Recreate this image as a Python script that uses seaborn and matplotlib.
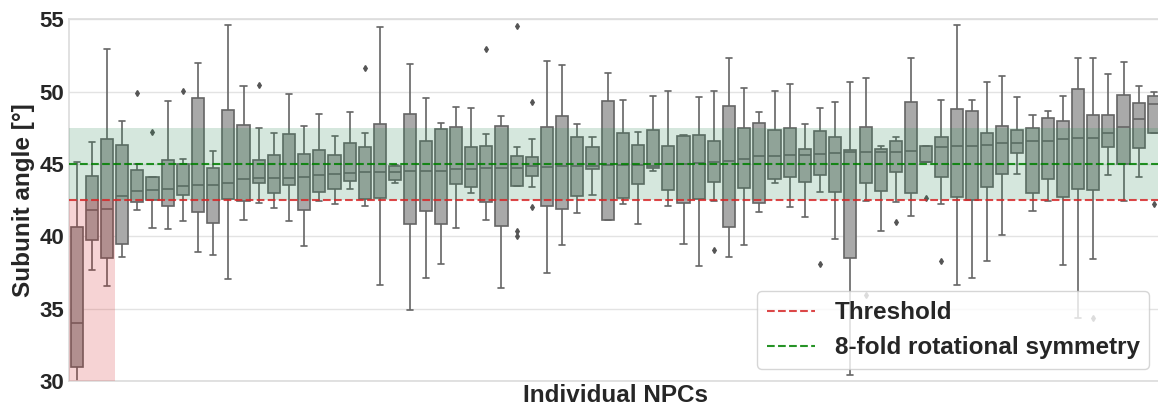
"""
plot.py
Subunit angle distribution per individual NPC, drawn as seaborn box plots
with the threshold and 8-fold symmetry reference bands on top.
"""

import matplotlib
matplotlib.use("Agg")
import matplotlib.pyplot as plt
import pandas as pd
import seaborn as sns

THRESHOLD = 42.5
SYMMETRY = 45.0
TOLERANCE = 2.5
Y_MIN, Y_MAX = 30, 55

# five-number summaries, one entry per NPC (sorted by median)
whisker_low = [29.5, 37.69, 36.58, 38.54, 41.81, 40.54, 40.5, 41.05, 38.89, 38.68,
               37.04, 41.1, 42.27, 41.95, 41.05, 39.32, 42.45, 42.2, 43.26, 42.06,
               36.63, 43.65, 34.88, 37.09, 38.1, 40.54, 42.96, 41.14, 36.4, 43.5,
               43.44, 37.46, 39.39, 41.6, 42.87, 41.1, 42.22, 40.84, 44.53, 42.11,
               39.46, 37.96, 42.45, 38.56, 39.37, 41.67, 43.67, 42.04, 41.3, 43.05,
               39.83, 30.44, 42.45, 40.4, 42.36, 41.4, 45.1, 42.22, 36.61, 37.11,
               38.31, 40.06, 44.32, 41.74, 42.45, 37.99, 34.35, 38.45, 44.23, 42.45,
               44.07, 47.15]
q1 = [30.97, 39.74, 38.5, 39.48, 42.39, 42.5, 42.06, 42.87, 41.69, 40.91,
      42.57, 42.45, 43.7, 42.98, 43.56, 41.79, 43.05, 43.24, 43.79, 42.61,
      42.64, 43.88, 40.84, 41.76, 40.84, 43.6, 43.44, 42.34, 40.68, 43.5,
      44.18, 42.06, 41.88, 42.8, 44.66, 41.1, 42.68, 43.6, 44.73, 43.17,
      42.29, 42.61, 43.74, 40.66, 43.37, 42.29, 43.95, 44.09, 43.77, 44.25,
      43.05, 38.49, 43.67, 43.1, 44.46, 42.98, 45.1, 44.11, 42.71, 42.5,
      43.4, 44.32, 45.77, 42.98, 43.93, 42.71, 43.26, 43.21, 46.16, 45.0,
      46.09, 47.15]
median = [34.03, 41.81, 41.88, 42.78, 43.14, 43.21, 43.24, 43.51, 43.56, 43.56,
          43.67, 43.95, 44.02, 44.04, 44.06, 44.13, 44.23, 44.32, 44.34, 44.41,
          44.41, 44.43, 44.48, 44.5, 44.5, 44.64, 44.64, 44.69, 44.71, 44.74,
          44.83, 44.78, 44.87, 44.87, 44.89, 44.94, 44.92, 44.92, 44.83, 44.98,
          45.03, 45.08, 45.15, 45.17, 45.33, 45.56, 45.56, 45.61, 45.65, 45.68,
          45.75, 45.79, 45.79, 45.84, 45.84, 45.86, 45.15, 46.18, 46.25, 46.25,
          46.3, 46.44, 46.44, 46.6, 46.6, 46.74, 46.78, 46.78, 47.13, 47.54,
          48.12, 49.13]
q3 = [40.64, 44.18, 46.71, 46.28, 44.55, 44.07, 45.24, 45.0, 49.54, 44.71,
      48.72, 47.7, 45.24, 45.61, 47.08, 45.7, 45.95, 45.61, 46.46, 46.14,
      47.75, 44.89, 48.46, 46.6, 47.4, 47.54, 46.14, 46.21, 47.59, 45.55,
      45.47, 47.54, 48.28, 46.87, 46.16, 49.34, 47.13, 46.3, 47.31, 46.25,
      46.92, 46.99, 46.57, 48.97, 47.45, 47.82, 47.31, 47.47, 46.02, 47.27,
      46.87, 45.98, 47.52, 46.02, 46.55, 49.27, 46.21, 46.87, 48.81, 48.65,
      47.15, 47.63, 47.33, 47.45, 48.19, 47.96, 50.17, 48.35, 48.37, 49.77,
      49.24, 49.66]
whisker_high = [45.15, 46.53, 52.97, 47.96, 45.0, 44.07, 49.34, 45.35, 51.94, 45.88,
                54.61, 50.37, 47.47, 47.15, 49.8, 47.59, 48.44, 46.94, 48.6, 47.17,
                54.45, 44.95, 51.89, 49.54, 47.8, 48.92, 48.83, 47.1, 48.32, 46.18,
                46.74, 52.12, 51.8, 47.75, 46.87, 51.29, 49.41, 47.2, 49.66, 50.05,
                47.03, 49.61, 50.07, 52.31, 50.28, 48.58, 50.05, 50.51, 47.73, 48.83,
                49.27, 50.65, 50.93, 46.21, 46.85, 52.35, 46.23, 49.43, 54.63, 49.41,
                50.63, 51.09, 49.61, 48.39, 48.67, 49.66, 52.35, 52.35, 51.18, 52.01,
                50.4, 49.98]
# outliers, keyed by NPC number (1-based)
outliers_low = {30: [40.35, 40.0], 31: [42.02], 43: [39.07], 50: [38.1], 53: [35.96],
                55: [40.96], 57: [42.64], 58: [38.31], 68: [34.35], 72: [42.2]}
outliers_high = {5: [49.91], 6: [47.22], 8: [50.03], 13: [50.46], 20: [51.6],
                 28: [52.97], 30: [54.54], 31: [49.27]}


def npc_values(i):
    # 13 values whose quartiles land exactly on the read summary
    below = outliers_low.get(i + 1, []) + [whisker_low[i]]
    below = below + [q1[i]] * (3 - len(below))
    above = [whisker_high[i]] + outliers_high.get(i + 1, [])
    above = [q3[i]] * (3 - len(above)) + above
    middle = [q1[i], q1[i], median[i], median[i], median[i], q3[i], q3[i]]
    return below + middle + above


rows = [{"npc": i, "angle": v} for i in range(len(median)) for v in npc_values(i)]
df = pd.DataFrame(rows)

sns.set_theme(style="whitegrid", rc={"grid.color": "#e3e3e3", "axes.edgecolor": "#dddddd"})
plt.rcParams["font.family"] = ["Liberation Sans", "DejaVu Sans"]

fig = plt.figure(figsize=(11.58, 4.08), dpi=100)
ax = fig.add_axes([0.0596, 0.066, 0.9434, 0.887])

sns.boxplot(data=df, x="npc", y="angle", color="darkgray", width=0.8, linewidth=1.2,
            fliersize=3,
            flierprops={"marker": "d", "markerfacecolor": "#555555",
                        "markeredgecolor": "#555555"},
            ax=ax)

n_below = sum(m < THRESHOLD for m in median)
ax.axhspan(SYMMETRY - TOLERANCE, SYMMETRY + TOLERANCE, color="seagreen", alpha=0.2,
           lw=0, zorder=5)
ax.fill_between([-0.5, n_below - 0.5], Y_MIN, THRESHOLD, color="tab:red", alpha=0.2,
                lw=0, zorder=5)
ax.axhline(THRESHOLD, color="tab:red", ls="--", lw=1.5, alpha=0.85, zorder=6,
           label="Threshold")
ax.axhline(SYMMETRY, color="green", ls="--", lw=1.5, alpha=0.85, zorder=6,
           label="8-fold rotational symmetry")

ax.set_xlim(-0.5, len(median) - 0.5)
ax.set_ylim(Y_MIN, Y_MAX)
ax.set_xticks([])
ax.set_yticks(range(Y_MIN, Y_MAX + 1, 5))
ax.tick_params(axis="y", labelsize=16, pad=3.6, length=0)
for label in ax.get_yticklabels():
    label.set_fontweight("bold")
ax.set_xlabel("Individual NPCs", fontsize=17.5, fontweight="bold", labelpad=2)
ax.set_ylabel("Subunit angle [°]", fontsize=17.5, fontweight="bold")
ax.yaxis.set_label_coords(-0.031, 0.5)
ax.legend(loc="lower right", prop={"size": 17.5, "weight": "bold"})

fig.savefig("out.png", dpi=100)
